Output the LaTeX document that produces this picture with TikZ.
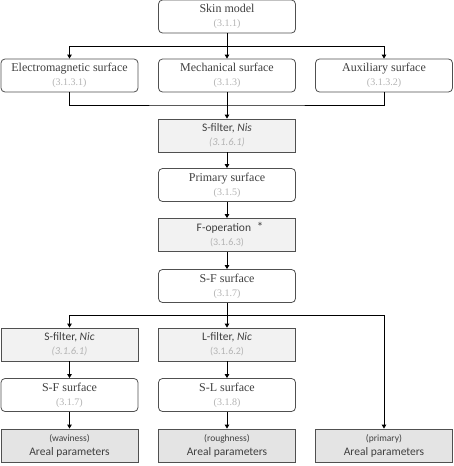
\documentclass[tikz,border=0pt]{standalone}
\usepackage{fontspec}
\setmainfont{Liberation Serif}
\newfontfamily\calfont{Carlito}
\usetikzlibrary{arrows.meta}

\definecolor{boxline}{HTML}{505050}
\definecolor{numgray}{HTML}{B4B4B4}
\definecolor{txtgray}{HTML}{404040}
\definecolor{filtfill}{HTML}{F2F2F2}
\definecolor{parfill}{HTML}{E4E4E4}

\newcommand{\numtxt}[1]{{\fontsize{10}{11}\selectfont\color{numgray}#1}}
\newcommand{\numsans}[1]{{\calfont\fontsize{10.5}{11}\selectfont\color{numgray}#1}}

\tikzset{
	surfbox/.style = {draw = boxline, line width = 0.8pt, rounded corners = 4pt, fill = white, minimum width = 137pt, minimum height = 33pt, align = center, text = txtgray, font = \fontsize{12}{13}\selectfont, inner sep = 0pt},
	filtbox/.style = {draw = boxline, line width = 0.8pt, fill = filtfill, minimum width = 137pt, minimum height = 33pt, align = center, text = txtgray, font = \calfont\fontsize{11.5}{13}\selectfont, inner sep = 0pt},
	parbox/.style  = {draw = boxline, line width = 0.8pt, fill = parfill, minimum width = 137pt, minimum height = 33pt, align = center, text = txtgray, font = \calfont\fontsize{11.5}{13}\selectfont, inner sep = 0pt},
	flow/.style    = {-{Triangle[length=4pt, width=4.5pt]}, line width = 0.8pt},
	link/.style    = {line width = 0.8pt}
}

\begin{document}
\begin{tikzpicture}[x = 1pt, y = -1pt]
		\useasboundingbox (0, 0) rectangle (454, 466);
		% top part
		\node[surfbox] (skin) at (227, 16.5) {Skin model\\[1pt]\numtxt{(3.1.1)}};
		\node[surfbox] (em)   at (69.5, 75.5) {Electromagnetic surface\\[1pt]\numtxt{(3.1.3.1)}};
		\node[surfbox] (mech) at (227, 75.5) {Mechanical surface\\[1pt]\numtxt{(3.1.3)}};
		\node[surfbox] (aux)  at (384, 75.5) {Auxiliary surface\\[1pt]\numtxt{(3.1.3.2)}};
		\node[filtbox] (snis) at (227, 135.5) {S-filter, \textit{Nis}\\[1pt]\numsans{\textit{(3.1.6.1)}}};
		\node[surfbox] (prim) at (227, 185) {Primary surface\\[1pt]\numtxt{(3.1.5)}};
		\node[filtbox] (fop)  at (227, 235) {\hspace*{6pt}F-operation\enspace{\fontsize{13}{13}\selectfont *}\\[1pt]\numtxt{(3.1.6.3)}};
		\node[surfbox] (sf)   at (227, 286) {S-F surface\\[1pt]\numtxt{(3.1.7)}};
		% bottom part
		\node[filtbox] (snic) at (69.5, 344.5) {S-filter, \textit{Nic}\\[1pt]\numsans{\textit{(3.1.6.1)}}};
		\node[filtbox] (lnic) at (227, 344.5) {L-filter, \textit{Nic}\\[1pt]\numtxt{(3.1.6.2)}};
		\node[surfbox] (sfw)  at (69.5, 395) {S-F surface\\[1pt]\numtxt{(3.1.7)}};
		\node[surfbox] (sl)   at (227, 395) {S-L surface\\[1pt]\numtxt{(3.1.8)}};
		\node[parbox]  (parw) at (69.5, 445.5) {{\fontsize{9.5}{10}\selectfont (waviness)}\\[1pt]Areal parameters};
		\node[parbox]  (parr) at (227, 445.5) {{\fontsize{9.5}{10}\selectfont (roughness)}\\[1pt]Areal parameters};
		\node[parbox]  (parp) at (384, 445.5) {{\fontsize{9.5}{10}\selectfont (primary)}\\[1pt]Areal parameters};
		% split below skin model
		\coordinate (split1) at (227, 46);
		\draw[link] (skin.south) -- (split1);
		\draw[flow] (split1) -| (em.north);
		\draw[flow] (split1) -- (mech.north);
		\draw[flow] (split1) -| (aux.north);
		% merge into S-filter
		\coordinate (merge1) at (227, 105);
		\draw[link] (em.south) |- (merge1) -| (aux.south);
		\draw[flow] (mech.south) -- (snis.north);
		% main chain
		\draw[flow] (snis) -- (prim);
		\draw[flow] (prim) -- (fop);
		\draw[flow] (fop) -- (sf);
		% split below S-F surface
		\coordinate (split2) at (227, 315);
		\draw[link] (sf.south) -- (split2);
		\draw[flow] (split2) -| (snic.north);
		\draw[flow] (split2) -- (lnic.north);
		\draw[flow] (split2) -| (parp.north);
		% columns
		\draw[flow] (snic) -- (sfw);
		\draw[flow] (sfw) -- (parw);
		\draw[flow] (lnic) -- (sl);
		\draw[flow] (sl) -- (parr);
	\end{tikzpicture}
\end{document}
